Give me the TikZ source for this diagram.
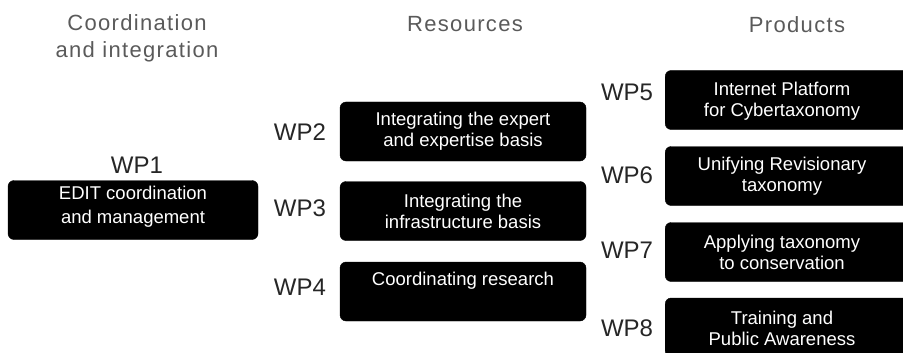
\documentclass[tikz,border=0pt]{standalone}
\usepackage{fontspec}
\setmainfont{Liberation Sans}
\newfontfamily\headfont[LetterSpace=6]{Liberation Sans}
\definecolor{headgray}{HTML}{5A5A5A}
\begin{document}
\begin{tikzpicture}[x=1pt,y=-1pt,
  wpbox/.style={fill=black, draw=black, rounded corners=6pt, minimum height=59pt, inner sep=0pt},
  boxtext/.style={text=white, align=center, font=\fontsize{18.5}{21}\selectfont, inner sep=0pt},
  wplabel/.style={font=\fontsize{24}{26}\selectfont, inner sep=0pt, text=black!85},
  header/.style={font=\headfont\fontsize{22}{27}\selectfont, text=headgray, align=center, inner sep=0pt}
]
\useasboundingbox (0,0) rectangle (903,353);
\begin{scope}
\clip (0,0) rectangle (903,353);
% headers
\node[header] (h1) at (137,38) {Coordination\\and integration};
\node[header] (h2) at (465,24) {Resources};
\node[header] (h3) at (797,25) {Products};

% WP1
\node[wpbox, minimum width=250pt] (b1) at (133,210) {};
\node[boxtext, font=\fontsize{18.5}{24}\selectfont] (t1) at (133,207) {EDIT coordination\\and management};
\node[wplabel] (l1) at (137,165) {WP1};

% Resources
\node[wpbox, minimum width=246pt] (b2) at (463,131.5) {};
\node[boxtext] (t2) at (463,131.5) {Integrating the expert\\and expertise basis};
\node[wplabel] (l2) at (300,132) {WP2};

\node[wpbox, minimum width=246pt] (b3) at (463,211) {};
\node[boxtext] (t3) at (463,211) {Integrating the\\infrastructure basis};
\node[wplabel] (l3) at (300,208) {WP3};

\node[wpbox, minimum width=246pt] (b4) at (463,291.5) {};
\node[boxtext] (t4) at (463,281) {Coordinating research};
\node[wplabel] (l4) at (300,287) {WP4};

% Products
\node[wpbox, minimum width=260pt, anchor=west] (b5) at (665,100) {};
\node[boxtext] (t5) at (782,101) {Internet Platform\\for Cybertaxonomy};
\node[wplabel] (l5) at (627,92) {WP5};

\node[wpbox, minimum width=260pt, anchor=west] (b6) at (665,176) {};
\node[boxtext] (t6) at (782,176) {Unifying Revisionary\\taxonomy};
\node[wplabel] (l6) at (627,175) {WP6};

\node[wpbox, minimum width=260pt, anchor=west] (b7) at (665,252) {};
\node[boxtext] (t7) at (782,252) {Applying taxonomy\\to conservation};
\node[wplabel] (l7) at (627,250) {WP7};

\node[wpbox, minimum width=260pt, anchor=west] (b8) at (665,327.5) {};
\node[boxtext] (t8) at (782,328) {Training and\\Public Awareness};
\node[wplabel] (l8) at (627,328) {WP8};
\end{scope}
\end{tikzpicture}
\end{document}
